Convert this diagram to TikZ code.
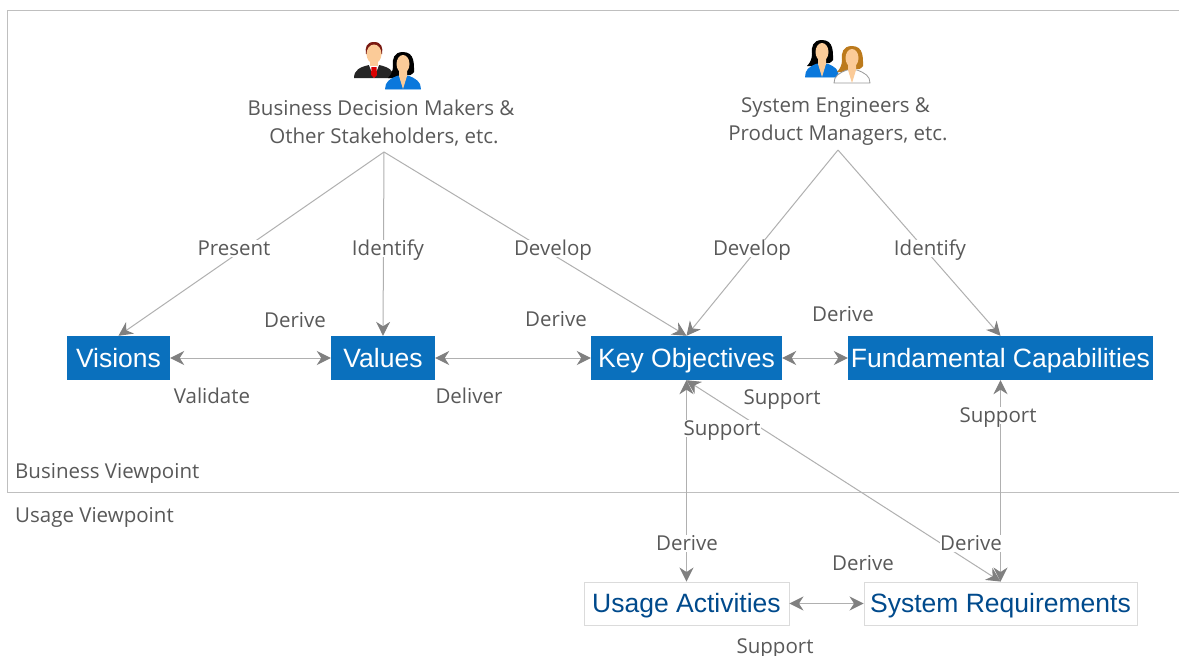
\documentclass[tikz,border=0pt]{standalone}
\usepackage{fontspec}
\setmainfont{Open Sans}
\newfontfamily\boxfont{Liberation Sans}
\usetikzlibrary{arrows.meta}
\definecolor{lbl}{HTML}{595959}
\definecolor{linegray}{HTML}{B0B0B0}
\definecolor{tipgray}{HTML}{808080}
\definecolor{framegray}{HTML}{BFBFBF}
\definecolor{bluebox}{HTML}{0A70BD}
\definecolor{navytxt}{HTML}{004A8C}
\definecolor{skin}{HTML}{FBCB98}
\definecolor{bluecloth}{HTML}{0A78DC}
\definecolor{brownhair}{HTML}{BC7A1C}
\definecolor{redhair}{HTML}{7A1A12}
\tikzset{
  x=1pt,y=-1pt,
  link/.style={draw=linegray,line width=1pt,-{Stealth[length=14pt,width=14pt,inset=4.5pt,color=tipgray]}},
  twoway/.style={draw=linegray,line width=1pt,{Stealth[length=14pt,width=14pt,inset=4.5pt,color=tipgray]}-{Stealth[length=14pt,width=14pt,inset=4.5pt,color=tipgray]}},
  solidbox/.style={fill=bluebox,text=white,inner sep=0pt,font=\boxfont\fontsize{26.5}{30}\selectfont,minimum height=44pt,anchor=center,text height=24pt,text depth=6pt},
  openbox/.style={fill=white,draw=black!14,line width=0.9pt,text=navytxt,inner sep=0pt,font=\boxfont\fontsize{26.5}{30}\selectfont,minimum height=43pt,anchor=center,text height=24pt,text depth=6pt},
  lab/.style={text=lbl,font=\fontsize{20.5}{28}\selectfont,inner sep=0.5pt,fill=white,text height=15pt,text depth=1pt},
  actor/.style={text=lbl,font=\fontsize{20.5}{28}\selectfont,inner xsep=0pt,inner ysep=6pt,align=center,anchor=south},
  plainlab/.style={text=lbl,font=\fontsize{20.5}{28}\selectfont,inner sep=0pt,text height=15pt,text depth=1pt},
}
\newcommand{\womanicon}[6]{%
  \begin{scope}[shift={(#1,#2)}]
    \fill[#3] (0,-13) .. controls (-9,-13) and (-11,-6) .. (-10,1) .. controls (-10,6) and (-12,10) .. (-15,13) .. controls (-9,14) and (-5,12) .. (-3,10) -- (3,10) .. controls (6,11) and (9,10) .. (11,7) .. controls (11,0) and (12,-13) .. (0,-13) -- cycle;
    \filldraw[fill=#4,draw=#5,line width=0.8pt] (-#6,24) .. controls (-#6,17) and (-13,14) .. (-5,11) -- (5,11) .. controls (13,14) and (#6,17) .. (#6,24) -- cycle;
    \fill[skin] (-4,4) -- (4,4) -- (4,11) -- (0,24) -- (-4,11) -- cycle;
    \fill[skin] (0,-1) ellipse [x radius=6.5pt,y radius=9pt];
  \end{scope}}
\newcommand{\manicon}[2]{%
  \begin{scope}[shift={(#1,#2)}]
    \fill[black!85] (-20,25) .. controls (-20,17) and (-14,14) .. (-5,12) -- (5,12) .. controls (14,14) and (20,17) .. (20,25) -- cycle;
    \fill[white] (-5,12) -- (5,12) -- (0,25) -- cycle;
    \fill[red!85!black] (-2.5,14) -- (2.5,14) -- (3,22) -- (0,25) -- (-3,22) -- cycle;
    \fill[skin] (-4,5) rectangle (4,13);
    \fill[redhair] (0,-11) .. controls (-8,-11) and (-9,-5) .. (-8,1) -- (8,1) .. controls (9,-5) and (8,-11) .. (0,-11) -- cycle;
    \fill[skin] (0,1) ellipse [x radius=7.5pt,y radius=9.5pt];
  \end{scope}}
\begin{document}
\begin{tikzpicture}
\useasboundingbox (0,0) rectangle (1179,656);
\fill[white] (0,0) rectangle (1179,656);
% viewpoint frame
\draw[framegray,line width=0.9pt] (1179,10) -- (7,10) -- (7,492) -- (1179,492);
% icons
\manicon{374}{53}
\womanicon{403}{65}{black}{bluecloth}{bluecloth}{17.5}
\womanicon{822}{53}{black}{bluecloth}{bluecloth}{16.5}
\womanicon{852}{59}{brownhair}{white}{black!40}{18}
% actors
\node[actor] (bdm) at (384,152) {Business Decision Makers \&\hspace*{6pt}\\Other Stakeholders, etc.};
\node[actor,inner ysep=4pt] (sys) at (838,150) {System Engineers \&\hspace*{5pt}\\Product Managers, etc.};
% boxes
\node[solidbox,minimum width=103pt] (vis) at (118.5,358) {Visions};
\node[solidbox,minimum width=104pt] (val) at (383,358) {Values};
\node[solidbox,minimum width=191pt] (key) at (686.5,358) {Key Objectives};
\node[solidbox,minimum width=305pt] (fund) at (1000.5,358) {Fundamental Capabilities};
\node[openbox,minimum width=205pt] (usage) at (686.5,603.5) {Usage Activities};
\node[openbox,minimum width=273pt] (req) at (1000.5,603.5) {System Requirements};
% connectors
\draw[link] (bdm.south) -- (vis.north);
\draw[link] (bdm.south) -- (val.north);
\draw[link] (bdm.south) -- (key.north);
\draw[link] (sys.south) -- (key.north);
\draw[link] (sys.south) -- (fund.north);
\draw[twoway] (vis.east) -- (val.west);
\draw[twoway] (val.east) -- (key.west);
\draw[twoway] (key.east) -- (fund.west);
\draw[twoway] (key.south) -- (usage.north);
\draw[twoway] (key.south) -- (req.north);
\draw[twoway] (fund.south) -- (req.north);
\draw[twoway] (usage.east) -- (req.west);
% labels
\node[lab] (l1) at (234,248) {Present};
\node[lab] (l2) at (388,248) {Identify};
\node[lab] (l3) at (553,248) {Develop};
\node[lab] (l4) at (752,248) {Develop};
\node[lab] (l5) at (930,248) {Identify};
\node[lab] (l6) at (295,320) {Derive};
\node[lab] (l7) at (212,396) {Validate};
\node[lab] (l8) at (556,319) {Derive};
\node[lab] (l9) at (469,396) {Deliver};
\node[lab] (l10) at (843,314) {Derive};
\node[lab] (l11) at (782,397) {Support};
\node[lab] (l12) at (722,428) {Support};
\node[lab] (l13) at (998,415) {Support};
\node[lab] (l14) at (687,543) {Derive};
\node[lab] (l15) at (971,543) {Derive};
\node[lab] (l16) at (863,563) {Derive};
\node[plainlab] (l17) at (775,646) {Support};
\node[plainlab,anchor=west] (bv) at (15,471) {Business Viewpoint};
\node[plainlab,anchor=west] (uv) at (15,515) {Usage Viewpoint};
\end{tikzpicture}
\end{document}
